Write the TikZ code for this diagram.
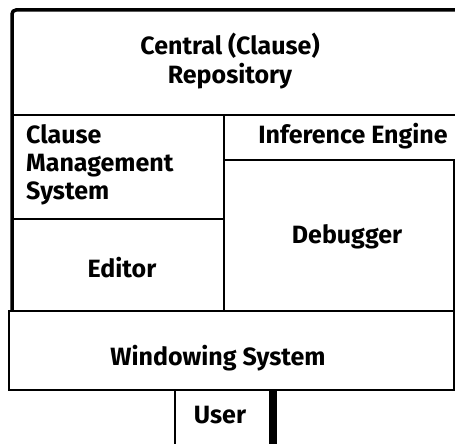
\documentclass[tikz,border=0pt]{standalone}
\usepackage{fontspec}
\setmainfont{Fira Sans}
\begin{document}
\begin{tikzpicture}[x=1pt,y=-1pt,
  lbl/.style={font=\fontsize{25}{28}\selectfont\bfseries,inner sep=0pt,anchor=base},
  edge/.style={line width=2.6pt,line cap=rect}]
\useasboundingbox (0,0) rectangle (455,444);
% outer frame of the upper stack
\draw[line width=3.5pt,rounded corners=4pt] (12,311) -- (12,10) -- (456,10);
\draw[edge] (12,115) -- (456,115);
\draw[edge] (224,115) -- (224,311);
\draw[edge] (12,219) -- (224,219);
\draw[edge] (224,160) -- (456,160);
\draw[edge] (454,160) -- (454,311);
% windowing system band
\draw[edge] (9,311) rectangle (454,390);
% user box
\draw[edge] (175,390) -- (175,446);
\draw[line width=8pt] (273,390) -- (273,446);
% labels
\node[lbl] (repo1) at (230,55) {Central (Clause)};
\node[lbl] (repo2) at (230,84) {Repository};
\node[lbl,anchor=base west] (cms1) at (26,143) {Clause};
\node[lbl,anchor=base west] (cms2) at (26,171) {Management};
\node[lbl,anchor=base west] (cms3) at (26,199) {System};
\node[lbl] (inf) at (353,143) {Inference Engine};
\node[lbl] (dbg) at (347,243) {Debugger};
\node[lbl] (edt) at (122,277) {Editor};
\node[lbl] (win) at (218,365) {Windowing System};
\node[lbl] (usr) at (220,423) {User};
\end{tikzpicture}
\end{document}
